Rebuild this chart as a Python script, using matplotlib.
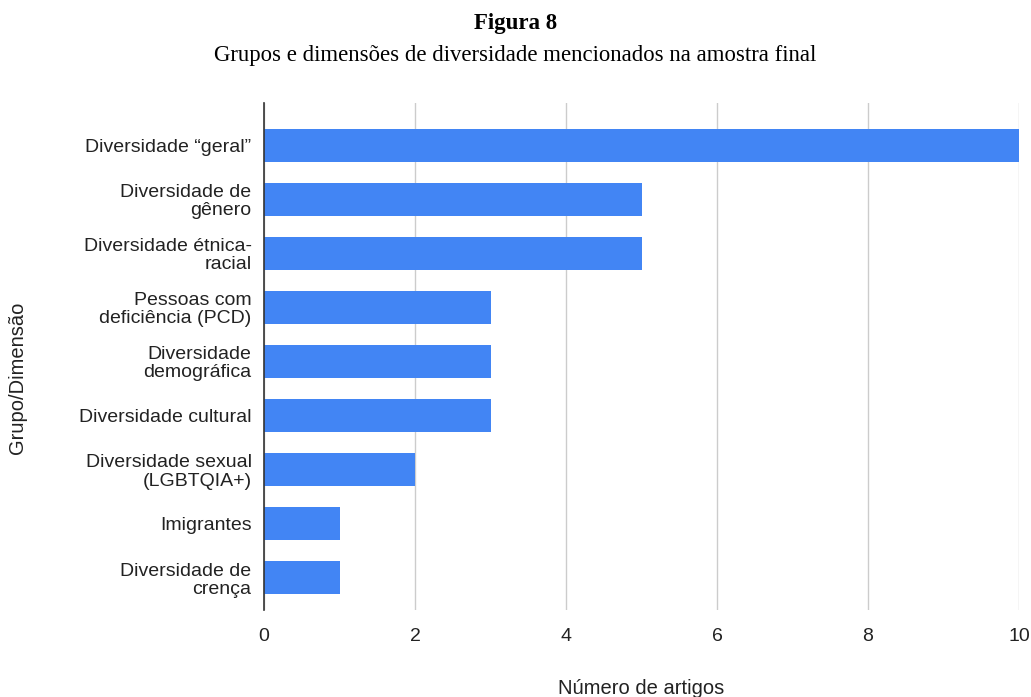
import matplotlib
matplotlib.use("Agg")
import matplotlib.pyplot as plt

categories = [
    "Diversidade \u201cgeral\u201d",
    "Diversidade de\ngênero",
    "Diversidade étnica-\nracial",
    "Pessoas com\ndeficiência (PCD)",
    "Diversidade\ndemográfica",
    "Diversidade cultural",
    "Diversidade sexual\n(LGBTQIA+)",
    "Imigrantes",
    "Diversidade de\ncrença",
]
values = [10, 5, 5, 3, 3, 3, 2, 1, 1]
xticks = [0, 2, 4, 6, 8, 10]

fig = plt.figure(figsize=(10.31, 6.97), dpi=100)
ax = fig.add_axes([264/1031, 1-610/697, (1019-264)/1031, (610-103)/697])

pos = list(range(len(categories)))
ax.barh(pos, values, height=0.61, color="#4285f4", zorder=3)
ax.set_ylim(8.6, -0.78)
ax.set_xlim(0, 10)
ax.set_xticks(xticks)
ax.set_xticklabels([str(t) for t in xticks], fontsize=14, color="#222222", family="Liberation Sans")
ax.set_yticks(pos)
ax.set_yticklabels(categories, fontsize=14, color="#222222", family="Liberation Sans", linespacing=1.08)
ax.tick_params(axis="y", length=0, pad=9)
ax.tick_params(axis="x", length=0, pad=13)
ax.grid(axis="x", color="#cccccc", linewidth=1, zorder=0)
for s in ["top", "right", "bottom"]:
    ax.spines[s].set_visible(False)
ax.spines["left"].set_color("#333333")
ax.spines["left"].set_linewidth(1.2)
ax.spines["left"].set_zorder(4)

fig.text(0.5, 1-24/697, "Figura 8", ha="center", va="center", fontsize=16.5, fontweight="bold", family="Liberation Serif")
fig.text(0.5, 1-56/697, "Grupos e dimensões de diversidade mencionados na amostra final", ha="center", va="center", fontsize=16.4, family="Liberation Serif")
fig.text(641/1031, 1-688/697, "Número de artigos", ha="center", va="center", fontsize=14.5, color="#222222", family="Liberation Sans")
fig.text(18/1031, 1-378/697, "Grupo/Dimensão", ha="center", va="center", rotation=90, fontsize=14.5, color="#222222", family="Liberation Sans")

fig.savefig("out.png", dpi=100)
